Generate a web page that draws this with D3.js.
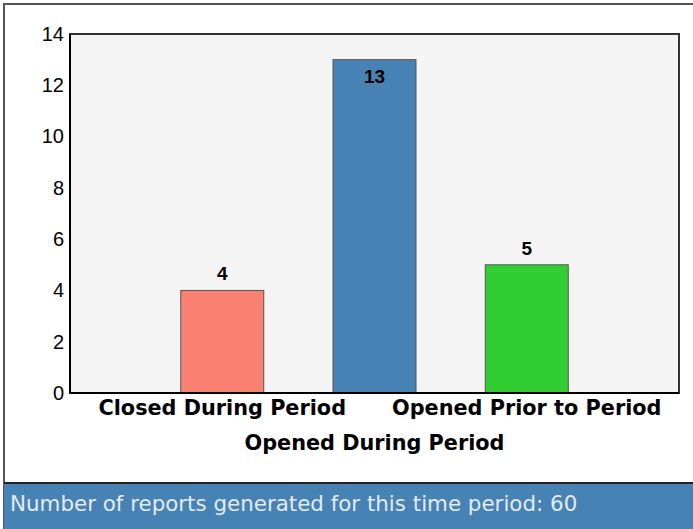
<!DOCTYPE html>
<html>
<head>
<meta charset="utf-8">
<script src="https://cdn.jsdelivr.net/npm/d3@7"></script>
<style>
  body { margin: 0; background: #fff; }
  svg { display: block; }
</style>
</head>
<body>
<div id="chart"></div>
<script>
// chart data
const categories = ["Closed During Period", "Opened During Period", "Opened Prior to Period"];
const counts = [4, 13, 5];
const barColors = ["#fa8072", "#4682b4", "#32cd32"];
const yTicks = [0, 2, 4, 6, 8, 10, 12, 14];
const footerText = "Number of reports generated for this time period: 60";

const W = 693, H = 529;
const plot = { left: 70, top: 34, right: 679, bottom: 393 };

const svg = d3.select("#chart").append("svg")
  .attr("width", W)
  .attr("height", H);

// outer box
svg.append("rect")
  .attr("x", 4).attr("y", 4)
  .attr("width", W).attr("height", H)
  .attr("fill", "#fff")
  .attr("stroke", "#555")
  .attr("stroke-width", 2);

// scales
const x = d3.scalePoint()
  .domain(categories)
  .range([plot.left, plot.right])
  .padding(1);

const y = d3.scaleLinear()
  .domain([0, 14])
  .range([plot.bottom, plot.top]);

const barWidth = 83;

// plot background
svg.append("rect")
  .attr("x", plot.left).attr("y", plot.top)
  .attr("width", plot.right - plot.left)
  .attr("height", plot.bottom - plot.top)
  .attr("fill", "#f4f4f4")
  .attr("stroke", "#333")
  .attr("stroke-width", 2);

// bars
svg.selectAll(".bar")
  .data(categories)
  .enter()
  .append("rect")
  .attr("class", "bar")
  .attr("x", (d) => x(d) - barWidth / 2)
  .attr("y", (d, i) => y(counts[i]))
  .attr("width", barWidth)
  .attr("height", (d, i) => y(0) - y(counts[i]))
  .attr("fill", (d, i) => barColors[i])
  .attr("stroke", "#555")
  .attr("stroke-width", 1);

// value labels (inside the bar when too close to the top)
svg.selectAll(".val")
  .data(categories)
  .enter()
  .append("text")
  .attr("class", "val")
  .attr("x", (d) => x(d))
  .attr("y", (d, i) => {
    const top = y(counts[i]);
    return top - 10 < plot.top + 30 ? top + 23 : top - 10;
  })
  .attr("text-anchor", "middle")
  .style("font-family", "Liberation Sans, Arial, sans-serif")
  .style("font-weight", "bold")
  .style("font-size", "19px")
  .text((d, i) => counts[i]);

// y axis
const yAxis = svg.append("g")
  .attr("transform", `translate(${plot.left}, 0)`)
  .call(d3.axisLeft(y).tickValues(yTicks).tickSize(0).tickPadding(6));
yAxis.select(".domain").remove();
yAxis.selectAll("text")
  .style("font-family", "Liberation Sans, Arial, sans-serif")
  .style("font-size", "20px")
  .attr("fill", "#000");

// axis lines
svg.append("line")
  .attr("x1", plot.left).attr("x2", plot.left)
  .attr("y1", plot.top).attr("y2", plot.bottom)
  .attr("stroke", "#000").attr("stroke-width", 2);
svg.append("line")
  .attr("x1", plot.left).attr("x2", plot.right)
  .attr("y1", plot.bottom).attr("y2", plot.bottom)
  .attr("stroke", "#000").attr("stroke-width", 2);

// x labels, staggered
svg.selectAll(".xlab")
  .data(categories)
  .enter()
  .append("text")
  .attr("class", "xlab")
  .attr("x", (d) => x(d))
  .attr("y", (d, i) => (i % 2 === 1 ? 450 : 415))
  .attr("text-anchor", "middle")
  .style("font-family", "DejaVu Sans, Verdana, sans-serif")
  .style("font-weight", "bold")
  .style("font-size", "20.8px")
  .text((d) => d);

// footer
svg.append("rect")
  .attr("x", 4).attr("y", 483)
  .attr("width", W).attr("height", H - 483)
  .attr("fill", "#4682b4");
svg.append("line")
  .attr("x1", 4).attr("x2", W)
  .attr("y1", 483).attr("y2", 483)
  .attr("stroke", "#222").attr("stroke-width", 2);
svg.append("text")
  .attr("x", 10)
  .attr("y", 511)
  .attr("fill", "#e3ebf3")
  .style("font-family", "DejaVu Sans, Verdana, sans-serif")
  .style("font-size", "21.4px")
  .text(footerText);
</script>
</body>
</html>
